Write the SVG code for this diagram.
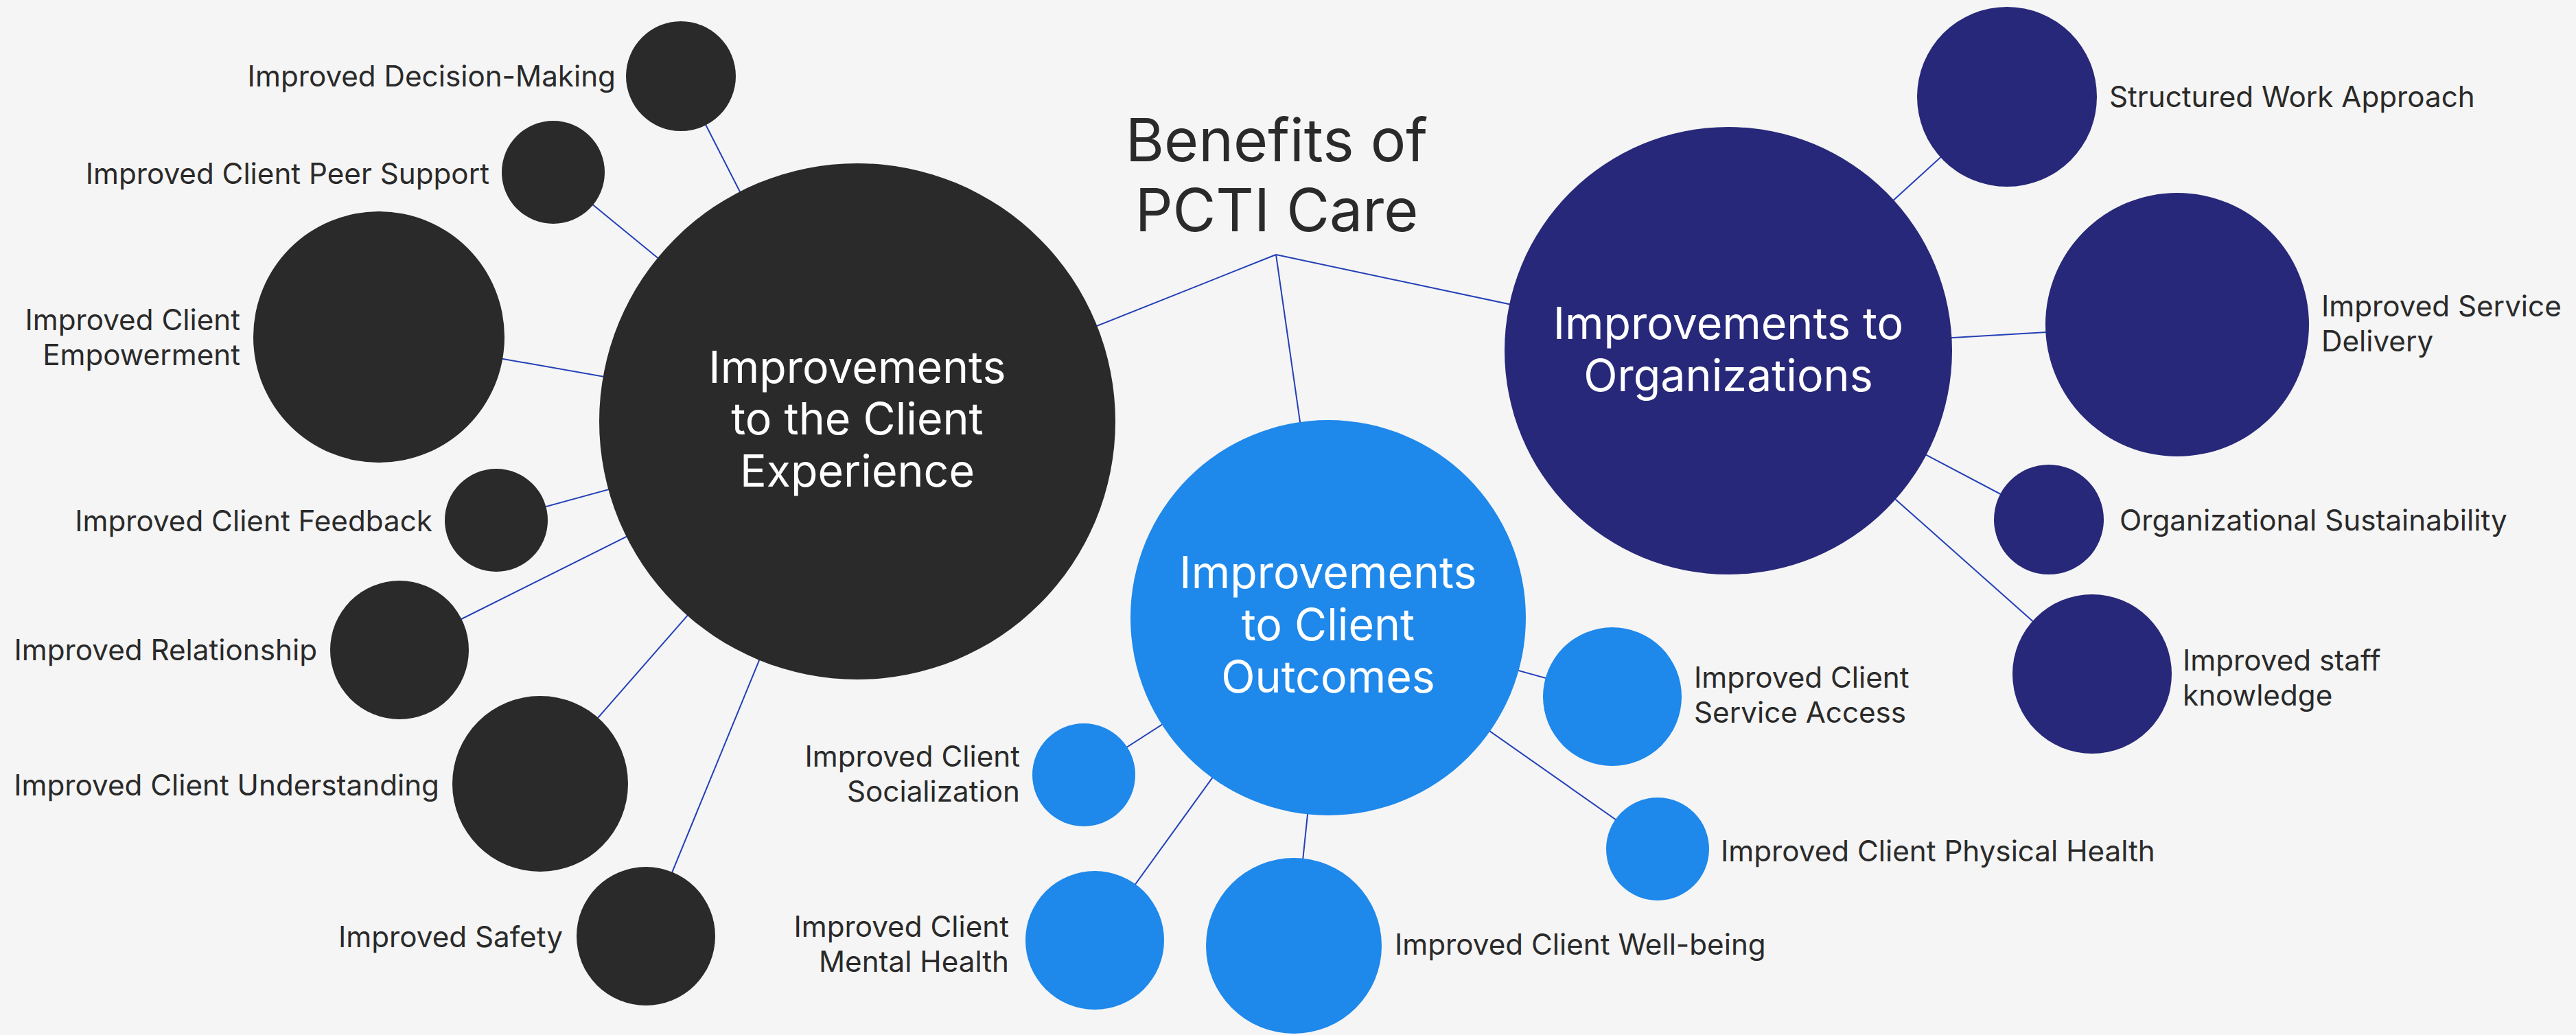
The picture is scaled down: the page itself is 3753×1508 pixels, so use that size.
<svg xmlns="http://www.w3.org/2000/svg" width="3753" height="1508" viewBox="0 0 3753 1508">
<style>
.bg{fill:#f5f5f5}
.conn line{stroke:#2440b8;stroke-width:2;fill:none}
.dark{fill:#2a2a2a}
.navy{fill:#272879}
.blue{fill:#1e88eb}
.lbl{font-family:Inter,"Liberation Sans",sans-serif;font-size:42.2px;fill:#2a2a2a}
.end{text-anchor:end}
.main{font-family:Inter,"Liberation Sans",sans-serif;font-size:64.5px;fill:#ffffff;text-anchor:middle}
.title{font-family:Inter,"Liberation Sans",sans-serif;font-size:86px;fill:#2a2a2a;text-anchor:middle}
</style>
<rect class="bg" x="0" y="0" width="3753" height="1508"/>
<g id="connectors" class="conn">
<line x1="1859" y1="371" x2="1249" y2="614"/>
<line x1="1859" y1="371" x2="2518" y2="511"/>
<line x1="1859" y1="371" x2="1935" y2="900"/>
<line x1="1249" y1="614" x2="992" y2="111"/>
<line x1="1249" y1="614" x2="806" y2="251"/>
<line x1="1249" y1="614" x2="552" y2="491"/>
<line x1="1249" y1="614" x2="723" y2="758"/>
<line x1="1249" y1="614" x2="582" y2="947"/>
<line x1="1249" y1="614" x2="787" y2="1142"/>
<line x1="1249" y1="614" x2="941" y2="1364"/>
<line x1="1935" y1="900" x2="1579" y2="1129"/>
<line x1="1935" y1="900" x2="1595" y2="1370"/>
<line x1="1935" y1="900" x2="1885" y2="1378"/>
<line x1="1935" y1="900" x2="2349" y2="1015"/>
<line x1="1935" y1="900" x2="2415" y2="1237"/>
<line x1="2518" y1="511" x2="2924" y2="141"/>
<line x1="2518" y1="511" x2="3172" y2="473"/>
<line x1="2518" y1="511" x2="2985" y2="757"/>
<line x1="2518" y1="511" x2="3048" y2="982"/>
</g>
<g id="title">
<text class="title" x="1860" y="235">Benefits of</text>
<text class="title" x="1860" y="337">PCTI Care</text>
</g>
<g id="client-experience">
<circle class="dark" cx="1249" cy="614" r="376"/>
<text class="main" x="1249" y="558">Improvements</text>
<text class="main" x="1249" y="633">to the Client</text>
<text class="main" x="1249" y="709">Experience</text>
</g>
<g id="client-outcomes">
<circle class="blue" cx="1935" cy="900" r="288"/>
<text class="main" x="1935" y="857">Improvements</text>
<text class="main" x="1935" y="933">to Client</text>
<text class="main" x="1935" y="1009">Outcomes</text>
</g>
<g id="organizations">
<circle class="navy" cx="2518" cy="511" r="326"/>
<text class="main" x="2518" y="494">Improvements to</text>
<text class="main" x="2518" y="570">Organizations</text>
</g>
<g id="decision-making">
<circle class="dark" cx="992" cy="111" r="80"/>
<text class="lbl end" x="897" y="126">Improved Decision-Making</text>
</g>
<g id="peer-support">
<circle class="dark" cx="806" cy="251" r="75"/>
<text class="lbl end" x="713" y="268">Improved Client Peer Support</text>
</g>
<g id="empowerment">
<circle class="dark" cx="552" cy="491" r="183"/>
<text class="lbl end" x="350" y="481">Improved Client</text>
<text class="lbl end" x="350" y="532">Empowerment</text>
</g>
<g id="feedback">
<circle class="dark" cx="723" cy="758" r="75"/>
<text class="lbl end" x="630" y="774">Improved Client Feedback</text>
</g>
<g id="relationship">
<circle class="dark" cx="582" cy="947" r="101"/>
<text class="lbl end" x="462" y="962">Improved Relationship</text>
</g>
<g id="understanding">
<circle class="dark" cx="787" cy="1142" r="128"/>
<text class="lbl end" x="640" y="1159">Improved Client Understanding</text>
</g>
<g id="safety">
<circle class="dark" cx="941" cy="1364" r="101"/>
<text class="lbl end" x="820" y="1380">Improved Safety</text>
</g>
<g id="socialization">
<circle class="blue" cx="1579" cy="1129" r="75"/>
<text class="lbl end" x="1486" y="1117">Improved Client</text>
<text class="lbl end" x="1486" y="1168">Socialization</text>
</g>
<g id="mental-health">
<circle class="blue" cx="1595" cy="1370" r="101"/>
<text class="lbl end" x="1470" y="1365">Improved Client</text>
<text class="lbl end" x="1470" y="1416">Mental Health</text>
</g>
<g id="well-being">
<circle class="blue" cx="1885" cy="1378" r="128"/>
<text class="lbl" x="2032" y="1391">Improved Client Well-being</text>
</g>
<g id="service-access">
<circle class="blue" cx="2349" cy="1015" r="101"/>
<text class="lbl" x="2468" y="1002">Improved Client</text>
<text class="lbl" x="2468" y="1053">Service Access</text>
</g>
<g id="physical-health">
<circle class="blue" cx="2415" cy="1237" r="75"/>
<text class="lbl" x="2507" y="1255">Improved Client Physical Health</text>
</g>
<g id="structured-work">
<circle class="navy" cx="2924" cy="141" r="131"/>
<text class="lbl" x="3073" y="156">Structured Work Approach</text>
</g>
<g id="service-delivery">
<circle class="navy" cx="3172" cy="473" r="192"/>
<text class="lbl" x="3382" y="461">Improved Service</text>
<text class="lbl" x="3382" y="512">Delivery</text>
</g>
<g id="org-sustainability">
<circle class="navy" cx="2985" cy="757" r="80"/>
<text class="lbl" x="3088" y="773">Organizational Sustainability</text>
</g>
<g id="staff-knowledge">
<circle class="navy" cx="3048" cy="982" r="116"/>
<text class="lbl" x="3180" y="977">Improved staff</text>
<text class="lbl" x="3180" y="1028">knowledge</text>
</g>
</svg>
